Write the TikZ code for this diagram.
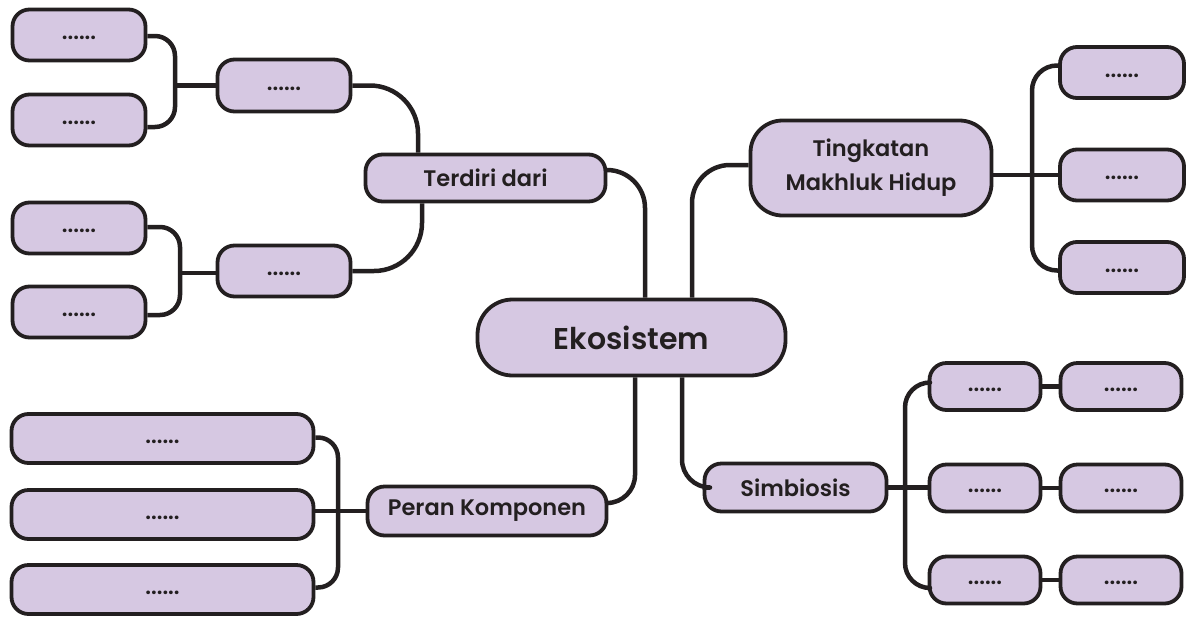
\documentclass[tikz,border=0pt]{standalone}
\usepackage{fontspec}
\setmainfont{Poppins SemiBold}
\usetikzlibrary{calc}
\definecolor{boxfill}{HTML}{D6C8E2}
\definecolor{ink}{HTML}{231F20}
\begin{document}
\begin{tikzpicture}[x=1pt,y=-1pt,
  box/.style={draw=ink,fill=boxfill,line width=3.8pt,rounded corners=17pt,inner sep=0pt,align=center,text=ink},
  dotbox/.style={box,font=\fontsize{22}{24}\selectfont,execute at begin node={\vphantom{Tg}}},
  lbl/.style={box,font=\fontsize{22.5}{34}\selectfont},
  conn/.style={draw=ink,line width=4.5pt,line join=round}]
\useasboundingbox (0,0) rectangle (1190,616);
% spine coordinates
\coordinate (spA) at (175,0);
\coordinate (spB) at (180,0);
\coordinate (jT) at (418,0);
\coordinate (jB) at (422,0);
\coordinate (jE1) at (645,0);
\coordinate (jE2) at (692,0);
\coordinate (jE3) at (635,0);
\coordinate (jE4) at (682,0);
\coordinate (spT) at (1032,0);
\coordinate (spS) at (905,0);
\coordinate (spP) at (338,0);
% nodes
\node[dotbox,minimum width=133pt,minimum height=51pt] (l1) at (79,35) {......};
\node[dotbox,minimum width=133pt,minimum height=51pt] (l2) at (79,120) {......};
\node[dotbox,minimum width=133pt,minimum height=51pt] (l3) at (79,228) {......};
\node[dotbox,minimum width=133pt,minimum height=51pt] (l4) at (79,312) {......};
\node[dotbox,minimum width=133pt,minimum height=52pt] (m1) at (284,85.5) {......};
\node[dotbox,minimum width=133pt,minimum height=51pt] (m2) at (284,271) {......};
\node[lbl,minimum width=240pt,minimum height=47pt] (terdiri) at (485.5,178) {Terdiri dari};
\node[box,rounded corners=35pt,font=\fontsize{30}{36}\selectfont,minimum width=308pt,minimum height=76pt] (eko) at (631.5,337.5) {Ekosistem};
\node[lbl,rounded corners=32pt,minimum width=241pt,minimum height=95pt] (ting) at (871,168) {Tingkatan\\Makhluk Hidup};
\node[dotbox,minimum width=124pt,minimum height=51pt] (r1) at (1122,72.5) {......};
\node[dotbox,minimum width=124pt,minimum height=51pt] (r2) at (1122,175) {......};
\node[dotbox,minimum width=124pt,minimum height=51pt] (r3) at (1122,267.5) {......};
\node[lbl,minimum width=239pt,minimum height=49pt] (peran) at (487,511) {Peran Komponen};
\node[dotbox,minimum width=302pt,minimum height=49pt] (b1) at (162.5,438.5) {......};
\node[dotbox,minimum width=302pt,minimum height=49pt] (b2) at (162.5,514.5) {......};
\node[dotbox,minimum width=302pt,minimum height=49pt] (b3) at (162.5,589.5) {......};
\node[lbl,minimum width=182pt,minimum height=48pt] (simb) at (795.5,487.5) {Simbiosis};
\node[dotbox,minimum width=111pt,minimum height=47pt] (s1a) at (985,386.5) {......};
\node[dotbox,minimum width=111pt,minimum height=47pt] (s2a) at (985,488) {......};
\node[dotbox,minimum width=111pt,minimum height=47pt] (s3a) at (985,580) {......};
\node[dotbox,minimum width=121pt,minimum height=47pt] (s1b) at (1121,386.5) {......};
\node[dotbox,minimum width=121pt,minimum height=47pt] (s2b) at (1121,488) {......};
\node[dotbox,minimum width=121pt,minimum height=47pt] (s3b) at (1121,580) {......};
% connectors: left top
\draw[conn,rounded corners=20pt] ($(l1.east)+(0,1)$) -- ($(l1.east -| spA)+(0,1)$) -- ($(l2.east -| spA)+(0,7)$) -- ($(l2.east)+(0,7)$);
\draw[conn] (m1.west -| spA) -- (m1.west);
\draw[conn,rounded corners=20pt] ($(l3.east)+(0,-1)$) -- ($(l3.east -| spB)+(0,-1)$) -- ($(l4.east -| spB)+(0,3)$) -- ($(l4.east)+(0,3)$);
\draw[conn] ($(m2.west -| spB)+(0,2)$) -- ($(m2.west)+(0,2)$);
\draw[conn,rounded corners=48pt] (m1.east) -- (m1.east -| jT) -- (jT |- terdiri.north);
\draw[conn,rounded corners=48pt] (jB |- terdiri.south) -- (jB |- m2.east) -- (m2.east);
% centre
\draw[conn,rounded corners=38pt] ($(terdiri.east)+(0,-8)$) -- ($(terdiri.east -| jE1)+(0,-8)$) -- (jE1 |- eko.north);
\draw[conn,rounded corners=38pt] (jE2 |- eko.north) -- ($(jE2 |- ting.west)+(0,-3)$) -- ($(ting.west)+(0,-3)$);
\draw[conn,rounded corners=28pt] (jE3 |- eko.south) -- ($(jE3 |- peran.east)+(0,-8)$) -- ($(peran.east)+(0,-8)$);
\draw[conn,rounded corners=28pt] (jE4 |- eko.south) -- (jE4 |- simb.west) -- (simb.west);
% right top
\draw[conn] (ting.east |- r2.west) -- (r2.west);
\draw[conn,rounded corners=25pt] ($(r1.west)+(0,-7)$) -- ($(r1.west -| spT)+(0,-7)$) -- ($(r3.west -| spT)+(0,3)$) -- ($(r3.west)+(0,3)$);
% simbiosis
\draw[conn] (simb.east) -- (simb.east -| s2a.west);
\draw[conn,rounded corners=25pt] ($(s1a.west)+(0,-4)$) -- ($(s1a.west -| spS)+(0,-4)$) -- ($(s3a.west -| spS)+(0,8)$) -- ($(s3a.west)+(0,8)$);
\draw[conn] (s1a.east) -- (s1b.west);
\draw[conn] (s2a.east) -- (s2b.west);
\draw[conn] (s3a.east) -- (s3b.west);
% peran
\draw[conn] (b2.east |- peran.west) -- (peran.west);
\draw[conn,rounded corners=20pt] ($(b1.east)+(0,-1)$) -- ($(b1.east -| spP)+(0,-1)$) -- ($(b3.east -| spP)+(0,-2)$) -- ($(b3.east)+(0,-2)$);
\end{tikzpicture}
\end{document}
